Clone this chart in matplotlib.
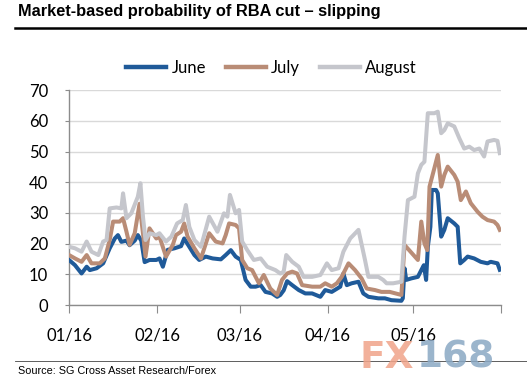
import matplotlib
matplotlib.use("Agg")
import matplotlib.pyplot as plt
import pandas as pd
from matplotlib.lines import Line2D

# days after 1 Jan 2016, probability (%)
june_days = [0, 2.1, 4.4, 6.2, 7.3, 9.7, 12, 14.3, 16.1, 17.2, 18.4, 20.2, 21.3, 23.1, 24.2, 25.4,
             26.6, 28.3, 30.7, 31.8, 33, 34.7, 37.1, 39.4, 40.5, 42.3, 44.1, 45.8, 48.1, 50.5,
             53.4, 55.1, 56.9, 58.6, 60.4, 62.1, 63.9, 65.6, 67.4, 69.1, 71.4, 73.2, 74.3, 75.5,
             76.7, 78.5, 80.8, 83.1, 85.5, 88.4, 90.1, 92.4, 95.4, 96.5, 97.7, 99.4, 101.8, 103.5,
             105.3, 108.8, 111.1, 113.4, 116.9, 117.4, 118, 118.6, 120.4, 122.7, 123.9, 124.8,
             125.6, 126.2, 127.1, 127.6, 129.1, 129.7, 130.9, 132, 133.2, 135.5, 136.7, 137.6,
             139, 140.2, 142.5, 144.8, 147.2, 148.3, 150.7, 151.5]
june_vals = [14.7, 13, 10.3, 12.5, 11.4, 12, 13.6, 18.5, 21.7, 22.8, 20.6, 21, 19.5, 21, 22.8, 21,
             14, 14.7, 14.7, 15.2, 12.5, 18, 18.5, 19.2, 21.7, 19, 16.3, 14.7, 15.8, 15.2,
             14.9, 16.3, 17.9, 15.8, 14.7, 8.2, 6, 6, 6.5, 4.3, 3.8, 2.7, 3.3, 4.8,
             7.8, 6.5, 4.9, 3.8, 3.8, 2.7, 4.9, 4.3, 6, 10.3, 6.5, 7.1, 7.6, 3.8,
             2.7, 2.2, 2.2, 1.6, 1.4, 2.2, 12, 8.2, 8.7, 9.2, 11.4, 13,
             8.2, 19, 25.5, 37.5, 37.5, 36.4, 22.3, 24.5, 28.3, 26.6, 25.5, 13.6,
             14.7, 15.8, 15.2, 14.1, 13.6, 14.1, 13.6, 11.5]

july_days = [0, 2.1, 4.4, 6.2, 7.9, 10.8, 12.6, 14.3, 15.5, 17.8, 19, 20.2, 21.3, 23.1, 24.8, 26,
             26.9, 28.3, 30.7, 31.8, 34.1, 36.5, 37.6, 39.4, 40.5, 41.7, 44.1, 46.4, 49.3, 51.6,
             54, 55.1, 56.3, 58.6, 59.8, 60.9, 62.7, 64.4, 66.8, 68.5, 70.8, 73.2, 74.9, 76.7,
             78.5, 80.2, 82, 85.5, 88.4, 90.1, 92.4, 94.2, 95.9, 98.3, 100.6, 102.9, 104.7, 107.6,
             109.9, 112.8, 116.9, 118, 122.7, 123.9, 125, 126, 126.8, 128.5, 129.7, 130.9, 132,
             133.2, 135.5, 136.7, 137.8, 139.6, 141.3, 143.7, 145.4, 147.2, 149.5, 150.7, 151.5]
july_vals = [16.3, 15.2, 14.1, 16.3, 13.6, 13.6, 15.2, 21.2, 27.2, 27.2, 28.3, 23.9, 19.6, 23.4, 33, 23.4,
             15.8, 25, 21.7, 22.3, 15.8, 19.6, 22.8, 23.9, 26.6, 22.3, 18.5, 15.2, 23.4, 20.7,
             20.1, 22.8, 26.6, 26.1, 25, 14.7, 12, 11.4, 7.1, 9.8, 5.4, 3.3, 8.2, 10.3,
             10.9, 10.3, 6.5, 6, 6, 7.1, 6, 7.1, 9.2, 13.6, 11.4, 8.7, 5.4, 4.9,
             4.3, 4.3, 3.3, 19.6, 14.7, 27.2, 20.1, 17.9, 38.6, 44.6, 48.9, 38.6, 42.4,
             45.1, 42.4, 40.2, 34.2, 37, 33.2, 30.4, 28.8, 27.7, 27.2, 26.1, 24.5]

aug_days = [0, 2.1, 4.4, 6.2, 7.9, 10.3, 12, 13.2, 14.3, 16.7, 18.4, 19, 20.2, 21.9, 24.2, 25.1,
            26, 26.9, 28.3, 30.7, 31.8, 34.1, 36, 38, 40, 41.1, 42.3, 44.1, 46.4, 49.3,
            52.2, 54.5, 55.7, 56.6, 58.6, 59.8, 60.9, 62.7, 65, 67.4, 69.7, 72.6, 74.3, 75.5,
            76.4, 78.5, 80.8, 82.5, 85.5, 88.4, 90.7, 92.4, 94.8, 96.5, 98.9, 101.8, 104.1, 105.3,
            108.8, 110.5, 111.7, 114, 116.9, 118, 119.2, 121.5, 122.7, 123.9, 125, 126.2, 128.5,
            129.7, 130.9, 132, 133.2, 135.5, 137.3, 139, 140.8, 142.5, 144.3, 146, 147.2, 149.5,
            150.7, 151.5]
aug_vals = [19, 18.5, 17.4, 20.7, 17.4, 16.3, 20.7, 21.2, 31.5, 31.8, 31.5, 36.4, 28.3, 29.9, 35.3, 39.7,
            28.8, 21.2, 23.4, 22.8, 23.4, 20.7, 22.3, 26.6, 27.7, 32.6, 25.5, 21.2, 19, 28.8,
            23.9, 29.9, 28.8, 35.9, 29.9, 31, 20.7, 17.9, 14.7, 15.2, 12.5, 11.4, 10.3, 10.9,
            16.3, 14.1, 12.5, 9.2, 9.2, 9.8, 13.6, 11.4, 12, 17.4, 21.7, 24.5, 14.7, 9.2,
            9.2, 8.2, 7.1, 7.1, 7.6, 22.3, 34.2, 35.3, 42.9, 45.7, 46.7, 62.5, 62.5,
            63, 56, 57, 59.2, 58.2, 54.3, 51, 51.6, 50.5, 51, 48.4, 53.3, 53.8,
            53.5, 49.5]

series_names = ["June", "July", "August"]
series_colors = ["#1f5a99", "#b98c76", "#c5c6cc"]
tick_dates = ["2016-01-01", "2016-02-01", "2016-03-01", "2016-04-01", "2016-05-01", "2016-06-01"]
tick_labels = ["01/16", "02/16", "03/16", "04/16", "05/16", ""]

start = pd.Timestamp("2016-01-01")


def to_dates(days):
    return [start + pd.Timedelta(days=d) for d in days]


fig = plt.figure(figsize=(5.27, 3.79), dpi=100)
ax = fig.add_axes([0.131, 0.195, 0.820, 0.567])

for days, vals, name, col in zip([june_days, july_days, aug_days],
                                 [june_vals, july_vals, aug_vals],
                                 series_names, series_colors):
    ax.plot(to_dates(days), vals, color=col, lw=2.9, solid_joinstyle="round", label=name, zorder=3)

ax.set_ylim(0, 70)
ax.set_yticks(range(0, 71, 10))
ax.set_xlim(pd.Timestamp(tick_dates[0]), pd.Timestamp(tick_dates[-1]))
ax.set_xticks([pd.Timestamp(t) for t in tick_dates])
ax.set_xticklabels(tick_labels)
ax.yaxis.grid(True, color="#d9d9d9", lw=1)
ax.set_axisbelow(True)
for s in ["top", "right"]:
    ax.spines[s].set_visible(False)
for s in ["left", "bottom"]:
    ax.spines[s].set_color("#8c8c8c")
    ax.spines[s].set_linewidth(1)
ax.tick_params(axis="y", length=3, color="#8c8c8c", labelsize=12, pad=12)
ax.tick_params(axis="x", length=6, color="#8c8c8c", labelsize=12, pad=10)
for lbl in ax.get_xticklabels() + ax.get_yticklabels():
    lbl.set_fontfamily("Lato")

handles = [Line2D([], [], color=c, lw=3.2) for c in series_colors]
fig.legend(handles, series_names, loc="center", bbox_to_anchor=(0.515, 0.82), ncol=3,
           frameon=False, prop={"family": "Lato", "size": 12}, handlelength=2.4,
           handletextpad=0.3, columnspacing=1.2)

fig.text(0.034, 0.969, "Market-based probability of RBA cut \u2013 slipping", fontsize=11.8,
         fontweight="bold", family="Liberation Sans", va="center")
fig.add_artist(Line2D([0.028, 1.0], [0.926, 0.926], color="black", lw=1.8))
fig.add_artist(Line2D([0.028, 1.0], [0.047, 0.047], color="#444444", lw=0.6))
fig.text(0.034, 0.021, "Source: SG Cross Asset Research/Forex", fontsize=7.8,
         family="Liberation Sans", va="center")

# FX168 watermark
fig.text(0.683, 0.03, "FX", fontsize=27, fontweight="bold", color="#f0a48a", alpha=0.85,
         va="baseline", family="DejaVu Sans")
fig.text(0.790, 0.03, "168", fontsize=27, fontweight="bold", color="#8aa8c4", alpha=0.85,
         va="baseline", family="DejaVu Sans")

fig.savefig("out.png", dpi=100)
